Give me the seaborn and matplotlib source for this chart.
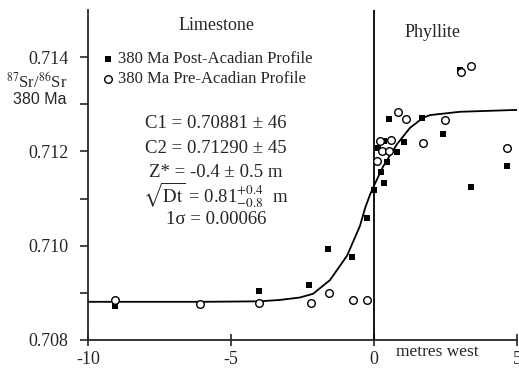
import numpy as np
import pandas as pd
import seaborn as sns
import matplotlib.pyplot as plt

# distance (m west of contact) and 87Sr/86Sr at 380 Ma
post_x = [-9.05, -6.05, -4.02, -2.27, -1.61, -0.77, -0.26, 0.0, 0.35, 0.24, 0.45,
          0.14, 0.35, 0.80, 1.05, 0.52, 1.68, 2.41, 3.00, 3.39, 4.65]
post_sr = [0.70873, 0.70876, 0.70904, 0.70917, 0.70992, 0.70977, 0.71058, 0.71119,
           0.71133, 0.71156, 0.71177, 0.71208, 0.71223, 0.71198, 0.71219, 0.71269,
           0.71271, 0.71237, 0.71372, 0.71125, 0.71169]

pre_x = [-9.05, -6.08, -4.02, -2.20, -1.57, -0.73, -0.24, 0.10, 0.28, 0.52, 0.21,
         0.59, 0.84, 1.12, 1.71, 2.48, 3.04, 3.39, 4.65]
pre_sr = [0.70884, 0.70877, 0.70879, 0.70879, 0.70900, 0.70885, 0.70885, 0.71179,
          0.71200, 0.71200, 0.71223, 0.71225, 0.71283, 0.71269, 0.71217, 0.71267,
          0.71369, 0.71381, 0.71208]

# fitted diffusion profile
fit_x = [-10, -6, -4, -3.29, -2.6, -2.13, -1.54, -0.94, -0.49, -0.31, -0.14, 0.03,
         0.31, 0.80, 1.26, 1.71, 1.96, 3.0, 5.0]
fit_sr = [0.70881, 0.70881, 0.70882, 0.70885, 0.70890, 0.70898, 0.70927, 0.70979,
          0.71042, 0.71080, 0.71108, 0.71131, 0.71167, 0.71215, 0.71250, 0.71271,
          0.71277, 0.71284, 0.71288]

post = pd.DataFrame({"x": post_x, "sr": post_sr})
pre = pd.DataFrame({"x": pre_x, "sr": pre_sr})
fit = pd.DataFrame({"x": fit_x, "sr": fit_sr})

sns.set_style("ticks")
plt.rcParams["font.family"] = ["Liberation Serif", "DejaVu Serif"]
plt.rcParams["mathtext.fontset"] = "stix"

fig = plt.figure(figsize=(5.19, 3.70), dpi=100)
ax = fig.add_axes([0.1696, 0.0811, 0.8265, 0.892])

sns.lineplot(data=fit, x="x", y="sr", ax=ax, color="black", lw=1.3, sort=False)
sns.scatterplot(data=post, x="x", y="sr", ax=ax, marker="s", s=14, color="black",
                edgecolor="black", linewidth=0, label="380 Ma Post-Acadian Profile", zorder=3)
sns.scatterplot(data=pre, x="x", y="sr", ax=ax, marker="o", s=30, facecolor="white",
                edgecolor="black", linewidth=1.0, label="380 Ma Pre-Acadian Profile", zorder=4)

ax.axvline(0, color="black", lw=1.3)

ax.set_xlim(-10, 5)
ax.set_ylim(0.708, 0.715)
ax.set_xticks([-10, -5, 0, 5])
ax.set_xticklabels(["-10", "-5", "0", "5"])
ax.set_yticks([0.708, 0.710, 0.712, 0.714])
ax.set_yticks([0.709, 0.711, 0.713], minor=True)
ax.set_yticklabels(["0.708", "0.710", "0.712", "0.714"])
ax.tick_params(axis="x", direction="inout", length=8, width=1.2, labelsize=13, pad=4)
ax.tick_params(axis="y", which="both", direction="out", length=6, width=1.2, labelsize=13, pad=8)
ax.set_xlabel("")
ax.set_ylabel("")
for side in ["top", "right"]:
    ax.spines[side].set_visible(False)
for side in ["left", "bottom"]:
    ax.spines[side].set_linewidth(1.3)

# legend rows centred near y = 57 px and 78 px
leg = ax.legend(loc="upper left", bbox_to_anchor=(0.026, 1 - 41 / 330), frameon=False,
                fontsize=12, handletextpad=0.15, handlelength=1.0, labelspacing=0.27,
                borderaxespad=0, borderpad=0)

ax.text(-5.5, 0.71467, "Limestone", ha="center", va="center", fontsize=13)
ax.text(2.06, 0.71452, "Phyllite", ha="center", va="center", fontsize=13)

stats = ["C1 = 0.70881 ± 46", "C2 = 0.71290 ± 45", "Z* = -0.4 ± 0.5 m",
         r"$\sqrt{\mathrm{Dt}}$ = 0.81$^{+0.4}_{-0.8}$  m", "1σ = 0.00066"]
stat_y = [0.71260, 0.71207, 0.71156, 0.71107, 0.71056]
for s, yv in zip(stats, stat_y):
    ax.text(-5.52, yv, s, ha="center", va="center", fontsize=13.5)

fig.text(37 / 519, 1 - 82 / 370, r"$^{87}$Sr/$^{86}$Sr", ha="center", va="center", fontsize=12)
fig.text(40 / 519, 1 - 99 / 370, "380 Ma", ha="center", va="center", fontsize=11.5,
         family=["Liberation Sans", "DejaVu Sans"])
fig.text(437 / 519, 1 - 352 / 370, "metres west", ha="center", va="center", fontsize=12.5)

fig.savefig("out.png", dpi=100)
